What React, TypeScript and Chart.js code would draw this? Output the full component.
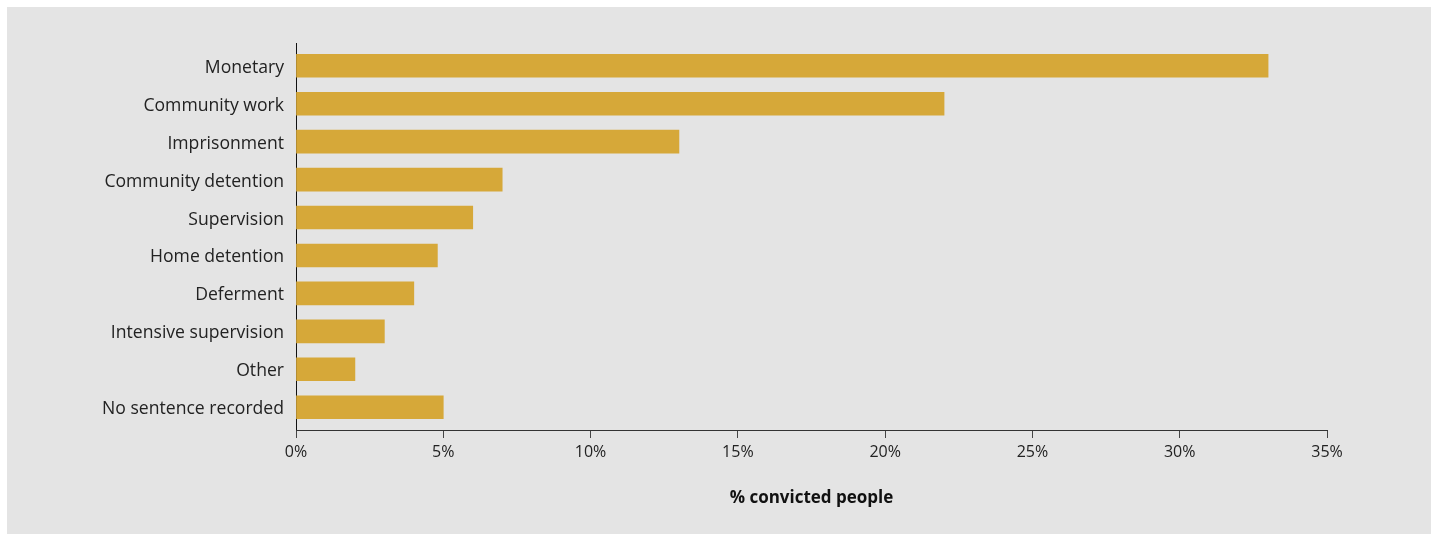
import React, { useEffect, useRef } from "react";
import { Chart, registerables } from "chart.js";

Chart.register(...registerables);

const categories = [
  "Monetary",
  "Community work",
  "Imprisonment",
  "Community detention",
  "Supervision",
  "Home detention",
  "Deferment",
  "Intensive supervision",
  "Other",
  "No sentence recorded",
];
const values = [33, 22, 13, 7, 6, 4.8, 4, 3, 2, 5];
const xTicks = [0, 5, 10, 15, 20, 25, 30, 35];
const xTitle = "% convicted people";

const W = 1424;
const H = 527;
const FONT = "'Open Sans', 'DejaVu Sans', sans-serif";
const Y_MIN = -0.6;
const Y_MAX = 9.6;

export default function App() {
  const ref = useRef<HTMLCanvasElement | null>(null);
  useEffect(() => {
    if (!ref.current) return;
    const chart = new Chart(ref.current, {
      type: "bar",
      data: {
        datasets: [
          {
            data: values.map((v, i) => ({ x: v, y: i })),
            backgroundColor: "#d6a839",
            borderWidth: 0,
            barThickness: 23,
          },
        ],
      },
      options: {
        indexAxis: "y",
        animation: false,
        responsive: false,
        maintainAspectRatio: false,
        layout: { padding: { top: 36, right: 104, left: 0, bottom: 0 } },
        plugins: { legend: { display: false }, tooltip: { enabled: false } },
        scales: {
          y: {
            type: "linear",
            reverse: true,
            offset: false,
            bounds: "data",
            min: Y_MIN,
            max: Y_MAX,
            afterFit: (s: any) => {
              s.width = 289;
            },
            afterBuildTicks: (s: any) => {
              s.ticks = categories.map((_, i) => ({ value: i }));
              s.min = Y_MIN;
              s.max = Y_MAX;
            },
            grid: { display: false, drawTicks: false, offset: false },
            border: { display: true, color: "#111", width: 1 },
            ticks: {
              padding: 12,
              labelOffset: 2,
              color: "#222",
              font: { family: FONT, size: 17.6 },
              callback: (v: any) => categories[v as number] ?? "",
            },
          },
          x: {
            type: "linear",
            min: 0,
            max: 35,
            afterFit: (s: any) => {
              s.height = 104;
            },
            afterBuildTicks: (s: any) => {
              s.ticks = xTicks.map((v) => ({ value: v }));
            },
            grid: {
              display: true,
              drawOnChartArea: false,
              drawTicks: true,
              tickLength: 8,
              color: "#444",
            },
            border: { display: true, color: "#333", width: 1 },
            ticks: {
              padding: 5,
              color: "#222",
              font: { family: FONT, size: 16 },
              maxRotation: 0,
              callback: (v: any) => `${v}%`,
            },
            title: {
              display: true,
              text: xTitle,
              color: "#111",
              font: { family: FONT, size: 17, weight: "bold" },
              padding: { top: 0, bottom: 26 },
            },
          },
        },
      },
    });
    return () => chart.destroy();
  }, []);

  return (
    <div
      style={{
        position: "absolute",
        left: 7,
        top: 7,
        width: W,
        height: H,
        background: "#e4e4e4",
      }}
    >
      <canvas ref={ref} width={W} height={H} style={{ width: W, height: H, display: "block" }} />
    </div>
  );
}
